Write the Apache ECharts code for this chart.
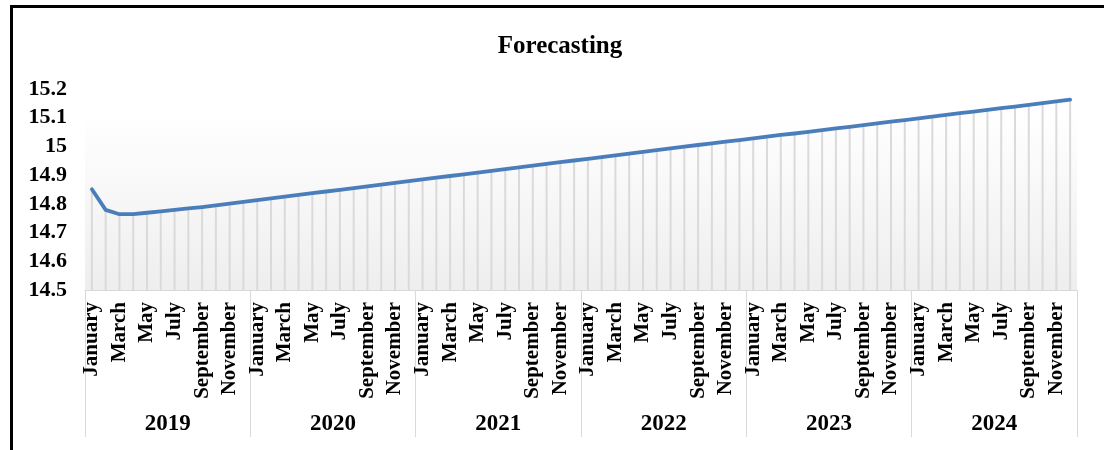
<!DOCTYPE html>
<html>
<head>
<meta charset="utf-8">
<script src="https://cdn.jsdelivr.net/npm/echarts@6/dist/echarts.min.js"></script>
<style>
    html, body { margin: 0; padding: 0; background: #fff; }
    .frame {
        position: absolute;
        left: 10px;
        top: 5px;
        width: 1200px;
        height: 600px;
        border-top: 3px solid #000;
        border-left: 3px solid #000;
    }
    #chart { position: absolute; left: 0; top: 0; width: 1104px; height: 450px; }
</style>
</head>
<body>
<div class="frame"></div>
<div id="chart"></div>
<script>
    var years = ['2019', '2020', '2021', '2022', '2023', '2024']
    var monthNames = ['January', 'February', 'March', 'April', 'May', 'June',
        'July', 'August', 'September', 'October', 'November', 'December']
    var yTicks = { min: 14.5, max: 15.2, step: 0.1 }

    // forecast values, Jan 2019 .. Dec 2024
    var forecast = [
        14.851, 14.779, 14.764, 14.764, 14.769, 14.774, 14.779, 14.784, 14.789, 14.795, 14.801, 14.807,
        14.813, 14.819, 14.825, 14.831, 14.837, 14.843, 14.849, 14.855, 14.861, 14.867, 14.873, 14.879,
        14.885, 14.891, 14.897, 14.903, 14.909, 14.915, 14.921, 14.927, 14.933, 14.939, 14.945, 14.951,
        14.957, 14.963, 14.969, 14.975, 14.981, 14.987, 14.993, 14.999, 15.005, 15.011, 15.017, 15.022,
        15.028, 15.034, 15.040, 15.045, 15.051, 15.057, 15.063, 15.068, 15.074, 15.080, 15.086, 15.092,
        15.098, 15.104, 15.110, 15.116, 15.121, 15.127, 15.133, 15.139, 15.145, 15.151, 15.157, 15.163
    ]

    var months = []
    years.forEach(function (y) {
        monthNames.forEach(function (m) { months.push(m) })
    })

    var font = 'Liberation Serif'

    var option = {
        animation: false,
        title: {
            text: 'Forecasting',
            left: 555,
            top: 29,
            textAlign: 'center',
            textStyle: { fontFamily: font, fontWeight: 'bold', fontSize: 25, color: '#000' }
        },
        grid: { left: 85, right: 27, top: 89, bottom: 160 },
        xAxis: [
            {
                type: 'category',
                data: months,
                position: 'bottom',
                axisLine: { show: false },
                axisTick: { show: false },
                axisLabel: {
                    interval: 1,
                    rotate: 90,
                    margin: 12,
                    fontFamily: font,
                    fontWeight: 'bold',
                    fontSize: 21,
                    color: '#000'
                }
            },
            {
                type: 'category',
                data: years,
                position: 'bottom',
                axisLine: { show: true, lineStyle: { color: '#d9d9d9', width: 1 } },
                axisTick: { show: true, interval: 0, length: 147, lineStyle: { color: '#d9d9d9', width: 1 } },
                axisLabel: {
                    interval: 0,
                    margin: 123,
                    fontFamily: font,
                    fontWeight: 'bold',
                    fontSize: 23,
                    color: '#000'
                }
            }
        ],
        yAxis: {
            type: 'value',
            min: yTicks.min,
            max: yTicks.max,
            interval: yTicks.step,
            axisLine: { show: false },
            axisTick: { show: false },
            splitLine: { show: false },
            axisLabel: {
                margin: 18,
                fontFamily: font,
                fontWeight: 'bold',
                fontSize: 22,
                color: '#000'
            }
        },
        series: [
            {
                // drop lines from each point down to the axis
                type: 'bar',
                xAxisIndex: 0,
                data: forecast,
                barWidth: 2,
                itemStyle: { color: '#dadada' },
                silent: true,
                z: 1,
                markArea: {
                    silent: true,
                    itemStyle: {
                        color: {
                            type: 'linear', x: 0, y: 0, x2: 0, y2: 1,
                            colorStops: [
                                { offset: 0, color: '#ffffff' },
                                { offset: 1, color: '#eeeeee' }
                            ]
                        }
                    },
                    data: [[{ yAxis: 15.117 }, { yAxis: 14.5 }]]
                }
            },
            {
                type: 'line',
                xAxisIndex: 0,
                data: forecast,
                symbol: 'none',
                lineStyle: { color: '#4a7ebb', width: 3.8, cap: 'round', join: 'round' },
                z: 3
            }
        ]
    }

    var chart = echarts.init(document.getElementById('chart'))
    chart.setOption(option)
</script>
</body>
</html>
